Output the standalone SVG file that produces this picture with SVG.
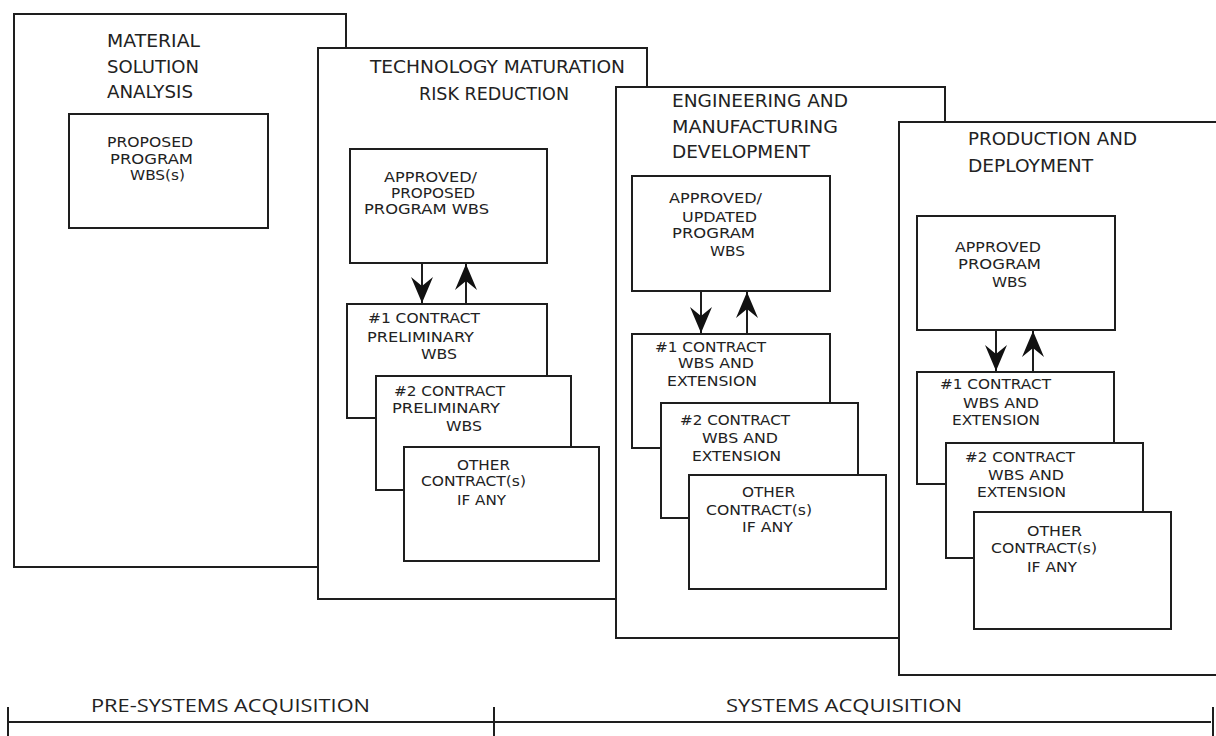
<svg xmlns="http://www.w3.org/2000/svg" width="1216" height="736" viewBox="0 0 1216 736">
<style>
.ph{fill:#fff;stroke:#1e1e1e;stroke-width:2}
.bx{fill:#fff;stroke:#1e1e1e;stroke-width:2}
.t{font-family:"DejaVu Sans","Noto Sans",sans-serif;font-size:17px;fill:#222}
.s{font-family:"DejaVu Sans","Noto Sans",sans-serif;font-size:14.5px;fill:#222}
.a{font-family:"Open Sans","Noto Sans",sans-serif;font-size:19px;fill:#222}
.ln{stroke:#1e1e1e;stroke-width:2;fill:none}
.ar{stroke:#1e1e1e;stroke-width:2;fill:none;marker-end:url(#ah)}
</style>
<defs>
<marker id="ah" viewBox="0 0 26 22" refX="26" refY="11" markerWidth="26" markerHeight="22" markerUnits="userSpaceOnUse" orient="auto">
<path d="M0,0 L26,11 L0,22 L9,11 Z" fill="#111"/>
</marker>
</defs>
<rect width="1216" height="736" fill="#fff"/>

<g id="msa">
<rect class="ph" x="14" y="14" width="332" height="553"/>
<text class="t" x="107" y="47" textLength="93" lengthAdjust="spacingAndGlyphs">MATERIAL</text>
<text class="t" x="107" y="73" textLength="92" lengthAdjust="spacingAndGlyphs">SOLUTION</text>
<text class="t" x="107" y="98" textLength="86" lengthAdjust="spacingAndGlyphs">ANALYSIS</text>
<g id="msa-wbs">
<rect class="bx" x="69" y="114" width="199" height="114"/>
<text class="s" x="107" y="147" textLength="86" lengthAdjust="spacingAndGlyphs">PROPOSED</text>
<text class="s" x="110" y="164" textLength="83" lengthAdjust="spacingAndGlyphs">PROGRAM</text>
<text class="s" x="130" y="180" textLength="55" lengthAdjust="spacingAndGlyphs">WBS(s)</text>
</g>
</g>

<g id="tmrr">
<rect class="ph" x="318" y="48" width="329" height="551"/>
<text class="t" x="370" y="73" textLength="255" lengthAdjust="spacingAndGlyphs">TECHNOLOGY MATURATION</text>
<text class="t" x="419" y="100" textLength="150" lengthAdjust="spacingAndGlyphs">RISK REDUCTION</text>
<g id="tmrr-wbs">
<rect class="bx" x="350" y="149" width="197" height="114"/>
<text class="s" x="384" y="182" textLength="93" lengthAdjust="spacingAndGlyphs">APPROVED/</text>
<text class="s" x="391" y="198" textLength="84" lengthAdjust="spacingAndGlyphs">PROPOSED</text>
<text class="s" x="364" y="214" textLength="125" lengthAdjust="spacingAndGlyphs">PROGRAM WBS</text>
</g>
<g id="tmrr-c1">
<rect class="bx" x="347" y="304" width="200" height="114"/>
<text class="s" x="368" y="323" textLength="112" lengthAdjust="spacingAndGlyphs">#1 CONTRACT</text>
<text class="s" x="367" y="342" textLength="107" lengthAdjust="spacingAndGlyphs">PRELIMINARY</text>
<text class="s" x="421" y="359" textLength="36" lengthAdjust="spacingAndGlyphs">WBS</text>
</g>
<g id="tmrr-c2">
<rect class="bx" x="376" y="376" width="195" height="114"/>
<text class="s" x="394" y="396" textLength="111" lengthAdjust="spacingAndGlyphs">#2 CONTRACT</text>
<text class="s" x="392" y="413" textLength="108" lengthAdjust="spacingAndGlyphs">PRELIMINARY</text>
<text class="s" x="446" y="431" textLength="36" lengthAdjust="spacingAndGlyphs">WBS</text>
</g>
<g id="tmrr-other">
<rect class="bx" x="404" y="447" width="195" height="114"/>
<text class="s" x="457" y="470" textLength="53" lengthAdjust="spacingAndGlyphs">OTHER</text>
<text class="s" x="421" y="486" textLength="105" lengthAdjust="spacingAndGlyphs">CONTRACT(s)</text>
<text class="s" x="457" y="505" textLength="49" lengthAdjust="spacingAndGlyphs">IF ANY</text>
</g>
</g>

<g id="emd">
<rect class="ph" x="616" y="87" width="329" height="551"/>
<text class="t" x="672" y="107" textLength="176" lengthAdjust="spacingAndGlyphs">ENGINEERING AND</text>
<text class="t" x="672" y="133" textLength="166" lengthAdjust="spacingAndGlyphs">MANUFACTURING</text>
<text class="t" x="672" y="158" textLength="138" lengthAdjust="spacingAndGlyphs">DEVELOPMENT</text>
<g id="emd-wbs">
<rect class="bx" x="632" y="176" width="198" height="115"/>
<text class="s" x="669" y="203" textLength="93" lengthAdjust="spacingAndGlyphs">APPROVED/</text>
<text class="s" x="682" y="222" textLength="75" lengthAdjust="spacingAndGlyphs">UPDATED</text>
<text class="s" x="672" y="238" textLength="83" lengthAdjust="spacingAndGlyphs">PROGRAM</text>
<text class="s" x="710" y="256" textLength="35" lengthAdjust="spacingAndGlyphs">WBS</text>
</g>
<g id="emd-c1">
<rect class="bx" x="632" y="334" width="198" height="114"/>
<text class="s" x="655" y="352" textLength="111" lengthAdjust="spacingAndGlyphs">#1 CONTRACT</text>
<text class="s" x="678" y="368" textLength="76" lengthAdjust="spacingAndGlyphs">WBS AND</text>
<text class="s" x="667" y="386" textLength="90" lengthAdjust="spacingAndGlyphs">EXTENSION</text>
</g>
<g id="emd-c2">
<rect class="bx" x="661" y="403" width="197" height="115"/>
<text class="s" x="680" y="425" textLength="110" lengthAdjust="spacingAndGlyphs">#2 CONTRACT</text>
<text class="s" x="702" y="443" textLength="76" lengthAdjust="spacingAndGlyphs">WBS AND</text>
<text class="s" x="692" y="461" textLength="89" lengthAdjust="spacingAndGlyphs">EXTENSION</text>
</g>
<g id="emd-other">
<rect class="bx" x="689" y="475" width="197" height="114"/>
<text class="s" x="742" y="497" textLength="53" lengthAdjust="spacingAndGlyphs">OTHER</text>
<text class="s" x="706" y="515" textLength="106" lengthAdjust="spacingAndGlyphs">CONTRACT(s)</text>
<text class="s" x="742" y="532" textLength="51" lengthAdjust="spacingAndGlyphs">IF ANY</text>
</g>
</g>

<g id="pd">
<rect class="ph" x="899" y="122" width="330" height="553"/>
<text class="t" x="968" y="145" textLength="169" lengthAdjust="spacingAndGlyphs">PRODUCTION AND</text>
<text class="t" x="968" y="172" textLength="125" lengthAdjust="spacingAndGlyphs">DEPLOYMENT</text>
<g id="pd-wbs">
<rect class="bx" x="917" y="216" width="198" height="114"/>
<text class="s" x="955" y="252" textLength="86" lengthAdjust="spacingAndGlyphs">APPROVED</text>
<text class="s" x="958" y="269" textLength="83" lengthAdjust="spacingAndGlyphs">PROGRAM</text>
<text class="s" x="992" y="287" textLength="35" lengthAdjust="spacingAndGlyphs">WBS</text>
</g>
<g id="pd-c1">
<rect class="bx" x="917" y="372" width="197" height="112"/>
<text class="s" x="940" y="389" textLength="111" lengthAdjust="spacingAndGlyphs">#1 CONTRACT</text>
<text class="s" x="963" y="408" textLength="76" lengthAdjust="spacingAndGlyphs">WBS AND</text>
<text class="s" x="952" y="425" textLength="88" lengthAdjust="spacingAndGlyphs">EXTENSION</text>
</g>
<g id="pd-c2">
<rect class="bx" x="946" y="443" width="197" height="115"/>
<text class="s" x="965" y="462" textLength="110" lengthAdjust="spacingAndGlyphs">#2 CONTRACT</text>
<text class="s" x="988" y="480" textLength="76" lengthAdjust="spacingAndGlyphs">WBS AND</text>
<text class="s" x="977" y="497" textLength="89" lengthAdjust="spacingAndGlyphs">EXTENSION</text>
</g>
<g id="pd-other">
<rect class="bx" x="974" y="512" width="197" height="117"/>
<text class="s" x="1027" y="536" textLength="55" lengthAdjust="spacingAndGlyphs">OTHER</text>
<text class="s" x="991" y="553" textLength="106" lengthAdjust="spacingAndGlyphs">CONTRACT(s)</text>
<text class="s" x="1027" y="572" textLength="50" lengthAdjust="spacingAndGlyphs">IF ANY</text>
</g>
</g>

<g id="connectors">
<line class="ar" x1="422" y1="263" x2="422" y2="303"/>
<line class="ar" x1="466" y1="304" x2="466" y2="264"/>
<line class="ar" x1="701" y1="291" x2="701" y2="333"/>
<line class="ar" x1="747" y1="334" x2="747" y2="292"/>
<line class="ar" x1="996" y1="330" x2="996" y2="371"/>
<line class="ar" x1="1033" y1="372" x2="1033" y2="331"/>
</g>

<g id="timeline">
<line class="ln" x1="8" y1="722" x2="1211" y2="722"/>
<line class="ln" x1="8" y1="707" x2="8" y2="736"/>
<line class="ln" x1="494" y1="707" x2="494" y2="736"/>
<line class="ln" x1="1213" y1="707" x2="1213" y2="736"/>
<text class="a" x="91" y="712" textLength="279" lengthAdjust="spacingAndGlyphs">PRE-SYSTEMS ACQUISITION</text>
<text class="a" x="726" y="712" textLength="236" lengthAdjust="spacingAndGlyphs">SYSTEMS ACQUISITION</text>
</g>
</svg>
